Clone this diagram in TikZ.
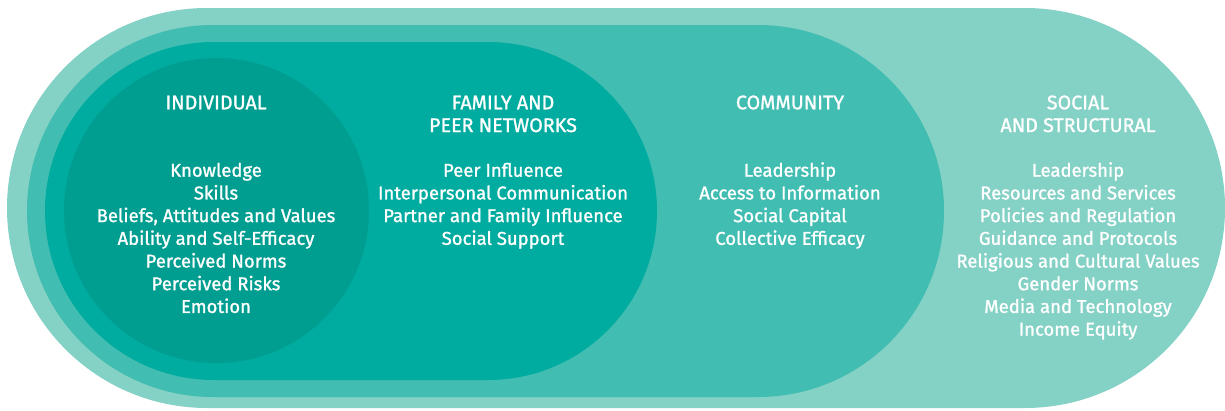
\documentclass[tikz,border=0pt]{standalone}
\usepackage{fontspec}
\setmainfont{Fira Sans}[FakeBold=1.2]
\definecolor{layerA}{RGB}{132,209,197}
\definecolor{layerB}{RGB}{66,189,178}
\definecolor{layerC}{RGB}{0,171,159}
\definecolor{layerD}{RGB}{0,158,144}
\begin{document}
\begin{tikzpicture}[x=1pt, y=-1pt,
			head/.style = {anchor=base, text=white, inner sep=0pt, font=\fontsize{19.7}{23}\selectfont},
			item/.style = {anchor=base, text=white, inner sep=0pt, font=\fontsize{18.5}{22}\selectfont},]
			
			\useasboundingbox (0,0) rectangle (1225,410);
			
			%% NESTED LAYERS
			\fill[layerA, rounded corners=200pt] (7,8) rectangle (1225,408);
			\fill[layerB, rounded corners=186pt] (27,25) rectangle (944,397);
			\fill[layerC, rounded corners=169pt] (45,42) rectangle (657,380);
			\fill[layerD] (216.5,210.5) circle (152.5pt);
			
			%% HEADINGS
			\node[head] (indHead) at (216,109.3) {INDIVIDUAL};
			\node[head] (famHead) at (503,109.3) {FAMILY AND};
			\node[head] (famHeadB) at (503,132) {PEER NETWORKS};
			\node[head] (comHead) at (790,109.3) {COMMUNITY};
			\node[head] (socHead) at (1078,109.3) {SOCIAL};
			\node[head] (socHeadB) at (1078,132) {AND STRUCTURAL};
			
			%% ITEMS
			\foreach \t [count=\i] in {Knowledge, Skills, {Beliefs, Attitudes and Values}, Ability and Self-Efficacy, Perceived Norms, Perceived Risks, Emotion}
				\node[item] (ind\i) at (216,{176.7+22.7*(\i-1)}) {\t};
			\foreach \t [count=\i] in {Peer Influence, Interpersonal Communication, Partner and Family Influence, Social Support}
				\node[item] (fam\i) at (503,{176.7+22.7*(\i-1)}) {\t};
			\foreach \t [count=\i] in {Leadership, Access to Information, Social Capital, Collective Efficacy}
				\node[item] (com\i) at (790,{176.7+22.7*(\i-1)}) {\t};
			\foreach \t [count=\i] in {Leadership, Resources and Services, Policies and Regulation, Guidance and Protocols, Religious and Cultural Values, Gender Norms, Media and Technology, Income Equity}
				\node[item] (soc\i) at (1078,{176.7+22.7*(\i-1)}) {\t};
\end{tikzpicture}
\end{document}
